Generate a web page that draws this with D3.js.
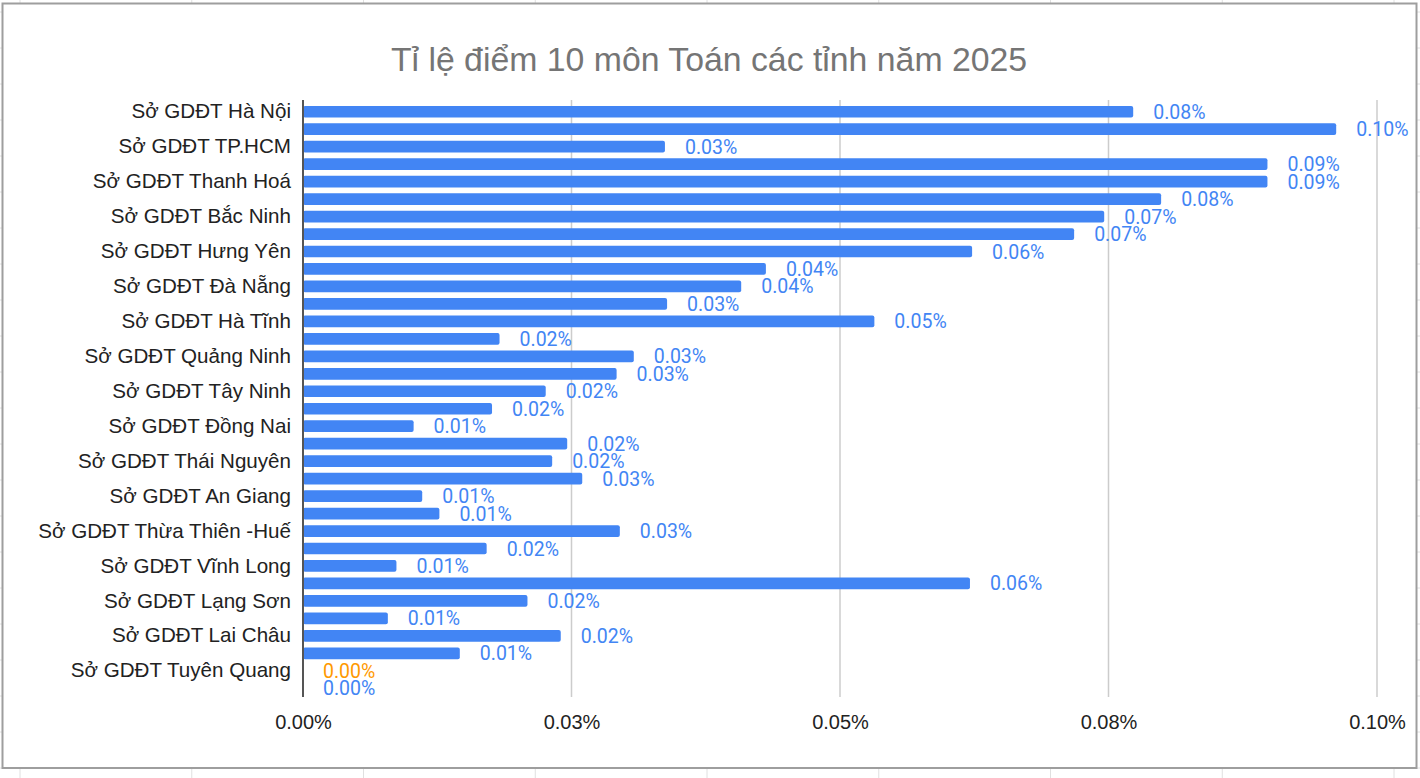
<!DOCTYPE html>
<html lang="vi">
<head>
<meta charset="UTF-8">
<title>Tỉ lệ điểm 10 môn Toán các tỉnh năm 2025</title>
<style>
  body { margin: 0; background: #fff; }
  svg { display: block; }
  .cat text { font-family: "Liberation Sans", Arial, sans-serif; font-size: 20.6px; fill: #222; }
  .xax text { font-family: "Liberation Sans", Arial, sans-serif; font-size: 20px; fill: #222; }
  .lbl { font-family: Roboto, "Noto Sans", sans-serif; font-size: 19.5px; }
</style>
</head>
<body>
<div id="chart"></div>
<script src="https://cdnjs.cloudflare.com/ajax/libs/d3/7.8.5/d3.min.js"></script>
<script>
// categories in sheet order (only every other one gets a label on the axis)
const provinces = [
  "Sở GDĐT Hà Nội", "Sở GDĐT Nghệ An", "Sở GDĐT TP.HCM", "Sở GDĐT Hải Phòng",
  "Sở GDĐT Thanh Hoá", "Sở GDĐT Ninh Bình", "Sở GDĐT Bắc Ninh", "Sở GDĐT Phú Thọ",
  "Sở GDĐT Hưng Yên", "Sở GDĐT Đồng Tháp", "Sở GDĐT Đà Nẵng", "Sở GDĐT Gia Lai",
  "Sở GDĐT Hà Tĩnh", "Sở GDĐT Đắk Lắk", "Sở GDĐT Quảng Ninh", "Sở GDĐT Lâm Đồng",
  "Sở GDĐT Tây Ninh", "Sở GDĐT Cần Thơ", "Sở GDĐT Đồng Nai", "Sở GDĐT Quảng Ngãi",
  "Sở GDĐT Thái Nguyên", "Sở GDĐT Quảng Trị", "Sở GDĐT An Giang", "Sở GDĐT Khánh Hoà",
  "Sở GDĐT Thừa Thiên -Huế", "Sở GDĐT Cà Mau", "Sở GDĐT Vĩnh Long", "Sở GDĐT Lào Cai",
  "Sở GDĐT Lạng Sơn", "Sở GDĐT Sơn La", "Sở GDĐT Lai Châu", "Sở GDĐT Cao Bằng",
  "Sở GDĐT Tuyên Quang", "Sở GDĐT Điện Biên"
];

// percent values
const rates = [
  0.0773, 0.0962, 0.0337, 0.0898, 0.0898, 0.0799, 0.0746, 0.0718,
  0.0623, 0.0431, 0.0408, 0.0339, 0.0532, 0.0183, 0.0308, 0.0292,
  0.0226, 0.0176, 0.0103, 0.0246, 0.0232, 0.0260, 0.0111, 0.0127,
  0.0295, 0.0171, 0.0087, 0.0621, 0.0209, 0.0079, 0.0240, 0.0146,
  0, 0
];

const xTicks = [0, 0.025, 0.05, 0.075, 0.1];
const xTickLabels = ["0.00%", "0.03%", "0.05%", "0.08%", "0.10%"];
const highlighted = "Sở GDĐT Tuyên Quang";

const W = 1420, H = 778;
const svg = d3.select("#chart").append("svg")
  .attr("width", W).attr("height", H);

// spreadsheet cells peeking around the chart
const bg = svg.append("g");
bg.selectAll(".vcell").data(d3.range(20, W, 171.75)).join("line")
  .attr("x1", d => d).attr("x2", d => d).attr("y1", 0).attr("y2", H)
  .attr("stroke", "#e0e0e0");
bg.selectAll(".hcell").data(d3.range(12, H, 36)).join("line")
  .attr("x1", 0).attr("x2", W).attr("y1", d => d).attr("y2", d => d)
  .attr("stroke", "#e0e0e0");

svg.append("rect")
  .attr("x", 2.5).attr("y", 3.5).attr("width", 1414).attr("height", 764.5)
  .attr("fill", "#fff").attr("stroke", "#9e9e9e").attr("stroke-width", 2);

svg.append("text")
  .attr("x", 709).attr("y", 71)
  .attr("text-anchor", "middle")
  .style("font-family", "'Liberation Sans', Arial, sans-serif")
  .style("font-size", "33.8px")
  .style("fill", "#757575")
  .text("Tỉ lệ điểm 10 môn Toán các tỉnh năm 2025");

const x = d3.scaleLinear().domain([0, 0.1]).range([303, 1377]);
const y = d3.scaleBand().domain(provinces).range([103, 697]).paddingInner(0.33).paddingOuter(0.165);

const data = provinces.map((p, i) => ({ name: p, value: rates[i] }));

// vertical grid
svg.append("g").selectAll("line").data(xTicks.slice(1)).join("line")
  .attr("x1", d => x(d)).attr("x2", d => x(d))
  .attr("y1", 100).attr("y2", 697)
  .attr("stroke", "#cccccc").attr("stroke-width", 1.5);

// x tick labels
const xAxis = svg.append("g").attr("class", "xax")
  .attr("transform", "translate(0,697)")
  .call(d3.axisBottom(x).tickValues(xTicks).tickSize(0).tickPadding(18)
    .tickFormat((d, i) => xTickLabels[i]));
xAxis.select(".domain").remove();

// category labels, every other one
const yAxis = svg.append("g").attr("class", "cat")
  .attr("transform", "translate(303,0)")
  .call(d3.axisLeft(y).tickValues(provinces.filter((d, i) => i % 2 === 0))
    .tickSize(0).tickPadding(12));
yAxis.select(".domain").remove();

// bars
svg.append("g").selectAll("rect").data(data).join("rect")
  .attr("x", x(0))
  .attr("y", d => y(d.name))
  .attr("width", d => x(d.value) - x(0))
  .attr("height", y.bandwidth())
  .attr("rx", 2)
  .attr("fill", "#4285f4");

// zero axis line
svg.append("line")
  .attr("x1", x(0)).attr("x2", x(0)).attr("y1", 100).attr("y2", 697)
  .attr("stroke", "#555").attr("stroke-width", 2);

// value labels
const fmt = d3.format(".2f");
svg.append("g").selectAll("text").data(data).join("text")
  .attr("class", "lbl")
  .attr("x", d => x(d.value) + 20)
  .attr("y", d => y(d.name) + y.bandwidth() / 2)
  .attr("dy", "0.36em")
  .attr("fill", d => d.name === highlighted ? "#ff9900" : "#4285f4")
  .text(d => fmt(d.value) + "%");
</script>
</body>
</html>
